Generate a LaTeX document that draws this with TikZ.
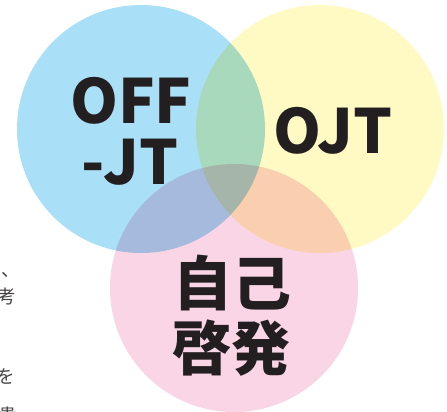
\documentclass[tikz,border=0pt]{standalone}
\usepackage{fontspec}
\newfontfamily\cjk{Noto Sans CJK JP}
\definecolor{cblue}{HTML}{A9DFF7}
\definecolor{cyellow}{HTML}{FFF9C4}
\definecolor{cpink}{HTML}{F9D5E5}
\definecolor{ink}{HTML}{231F20}
\begin{document}
\begin{tikzpicture}[x=1pt,y=1pt,
  circ/.style={blend mode=multiply},
  big/.style={font=\cjk\bfseries\fontsize{61}{61}\selectfont, text=ink, inner sep=0pt},
  bigj/.style={font=\cjk\bfseries\fontsize{59}{59}\selectfont, text=ink, inner sep=0pt},
  side/.style={font=\cjk\fontsize{18.5}{18.5}\selectfont, text=ink!85, inner sep=0pt, anchor=east}]
\useasboundingbox (0,0) rectangle (447,-412);
\begin{scope}[transparency group]
  \fill[cblue,circ] (141,-129) circle (124);
  \fill[cyellow,circ] (320,-129) circle (124);
  \fill[cpink,circ] (234,-288) circle (124);
\end{scope}
\node[big] (off) at (131,-100.5) {OFF};
\node[big] (jt) at (130,-162.5) {-JT};
\node[big] (ojt) at (333,-130.5) {OJT};
\node[bigj] (jiko) at (232.5,-282.5) {自己};
\node[bigj] (keihatsu) at (231,-348.5) {啓発};
\begin{scope}
  \clip (0,0) rectangle (447,-412);
  \node[side] (t1) at (20,-270) {ぶ、};
  \node[side] (t2) at (16,-296) {考};
  \node[side] (t3) at (15,-377) {を};
  \node[side] (t4) at (17,-415) {貴};
\end{scope}
\end{tikzpicture}
\end{document}
